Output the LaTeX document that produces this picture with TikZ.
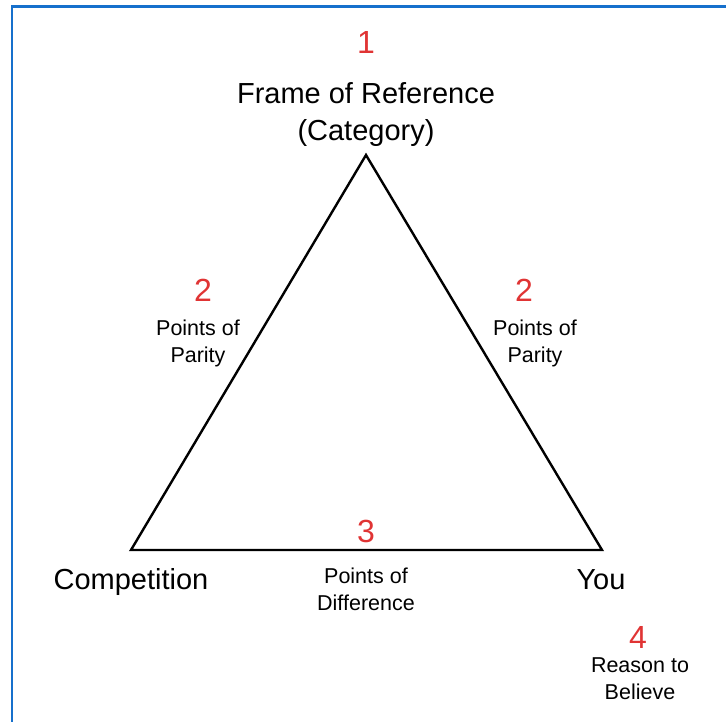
\documentclass[tikz,border=0pt]{standalone}
\usepackage{fontspec}
\setmainfont{Liberation Sans}

\definecolor{numred}{RGB}{224,52,52}
\definecolor{frameblue}{RGB}{22,112,204}

\begin{document}
\begin{tikzpicture}[x=1pt,y=-1pt,
  big label/.style={font=\fontsize{29}{37}\selectfont,align=center,inner sep=0pt},
  small label/.style={font=\fontsize{21.5}{27}\selectfont,align=center,inner sep=0pt},
  num label/.style={font=\fontsize{32}{36}\selectfont,text=numred,inner sep=0pt}]

  \useasboundingbox (0,0) rectangle (726,722);
  \draw[frameblue,line width=2.5pt] (12,722) -- (12,6.5) -- (726,6.5);

  \coordinate (top) at (366,155);
  \coordinate (comp) at (131,550);
  \coordinate (you) at (602,550);
  \draw[line width=2.4pt,line join=miter] (top) -- (comp) -- (you) -- cycle;

  \node[num label] (1) at (366,42) {1};
  \node[big label] (frame) at (366,115) {Frame of Reference\\(Category)};

  \node[num label] (2l) at (203,290) {2};
  \node[small label] (parityl) at (198,343) {Points of\\Parity};
  \node[num label] (2r) at (524,290) {2};
  \node[small label] (parityr) at (535,343) {Points of\\Parity};

  \node[num label] (3) at (366,531) {3};
  \node[small label] (diff) at (366,589) {Points of\\Difference};

  \node[big label,anchor=base] (complabel) at (131,589) {Competition};
  \node[big label,anchor=base] (youlabel) at (601,589) {You};

  \node[num label] (4) at (638,637) {4};
  \node[small label] (reason) at (640,679) {Reason to\\Believe};
\end{tikzpicture}
\end{document}
